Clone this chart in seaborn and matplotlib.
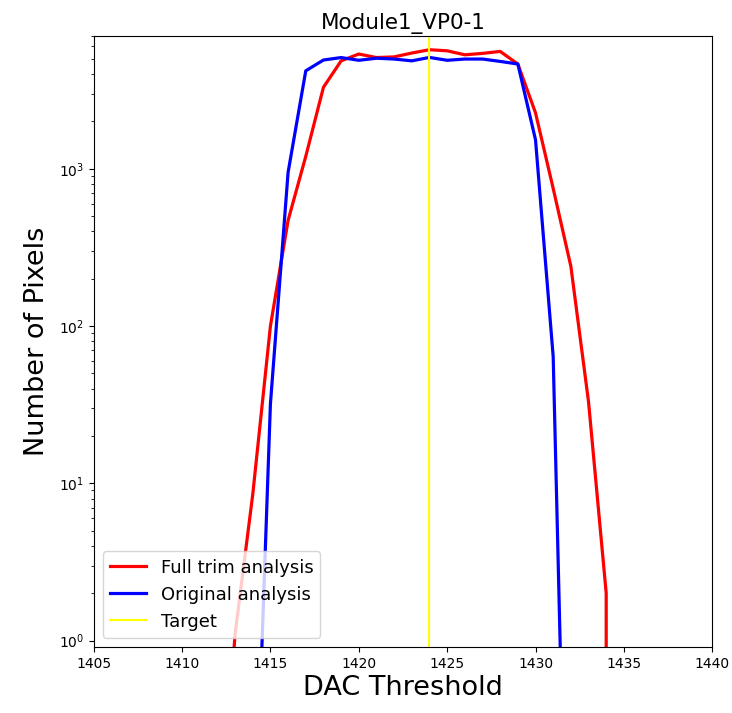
import matplotlib
matplotlib.use("Agg")
import matplotlib.pyplot as plt
import seaborn as sns
import pandas as pd

# Data
full_x = [1412, 1413, 1414, 1415, 1416, 1417, 1418, 1419, 1420, 1421, 1422, 1423,
          1424, 1425, 1426, 1427, 1428, 1429, 1430, 1431, 1432, 1433, 1434, 1435]
full_y = [0.03, 1.1, 8.5, 100, 470, 1200, 3300, 4860, 5370, 5100, 5150, 5450,
          5720, 5630, 5310, 5420, 5580, 4640, 2270, 750, 240, 33, 2, 0]

orig_x = [1413, 1414, 1415, 1416, 1417, 1418, 1419, 1420, 1421, 1422, 1423,
          1424, 1425, 1426, 1427, 1428, 1429, 1430, 1431, 1432, 1433]
orig_y = [0, 0.02, 32, 950, 4200, 4920, 5100, 4900, 5050, 4990, 4860,
          5110, 4900, 4990, 4990, 4820, 4640, 1530, 64, 0.0015, 0]

target = 1424
title = "Module1_VP0-1"
xticks = [1405, 1410, 1415, 1420, 1425, 1430, 1435, 1440]

df_full = pd.DataFrame({"x": full_x, "y": full_y})
df_orig = pd.DataFrame({"x": orig_x, "y": orig_y})

fig = plt.figure(figsize=(7.32, 7.13), dpi=100)
ax = fig.add_axes([0.128, 0.0926, 0.845, 0.857])

sns.lineplot(data=df_full, x="x", y="y", ax=ax, color="red", linewidth=2.3,
             estimator=None, sort=False, label="Full trim analysis")
sns.lineplot(data=df_orig, x="x", y="y", ax=ax, color="blue", linewidth=2.3,
             estimator=None, sort=False, label="Original analysis")
ax.axvline(target, color="yellow", linewidth=1.5, label="Target")

ax.set_yscale("log")
ax.set_xlim(1405, 1440)
ax.set_ylim(0.91, 7000)
ax.set_xticks(xticks)
ax.set_title(title, fontsize=15.5, pad=5)
ax.set_xlabel("DAC Threshold", fontsize=19.5, labelpad=3)
ax.set_ylabel("Number of Pixels", fontsize=19.5, labelpad=6)
ax.legend(loc="lower left", fontsize=13)

fig.savefig("out.png", dpi=100)
